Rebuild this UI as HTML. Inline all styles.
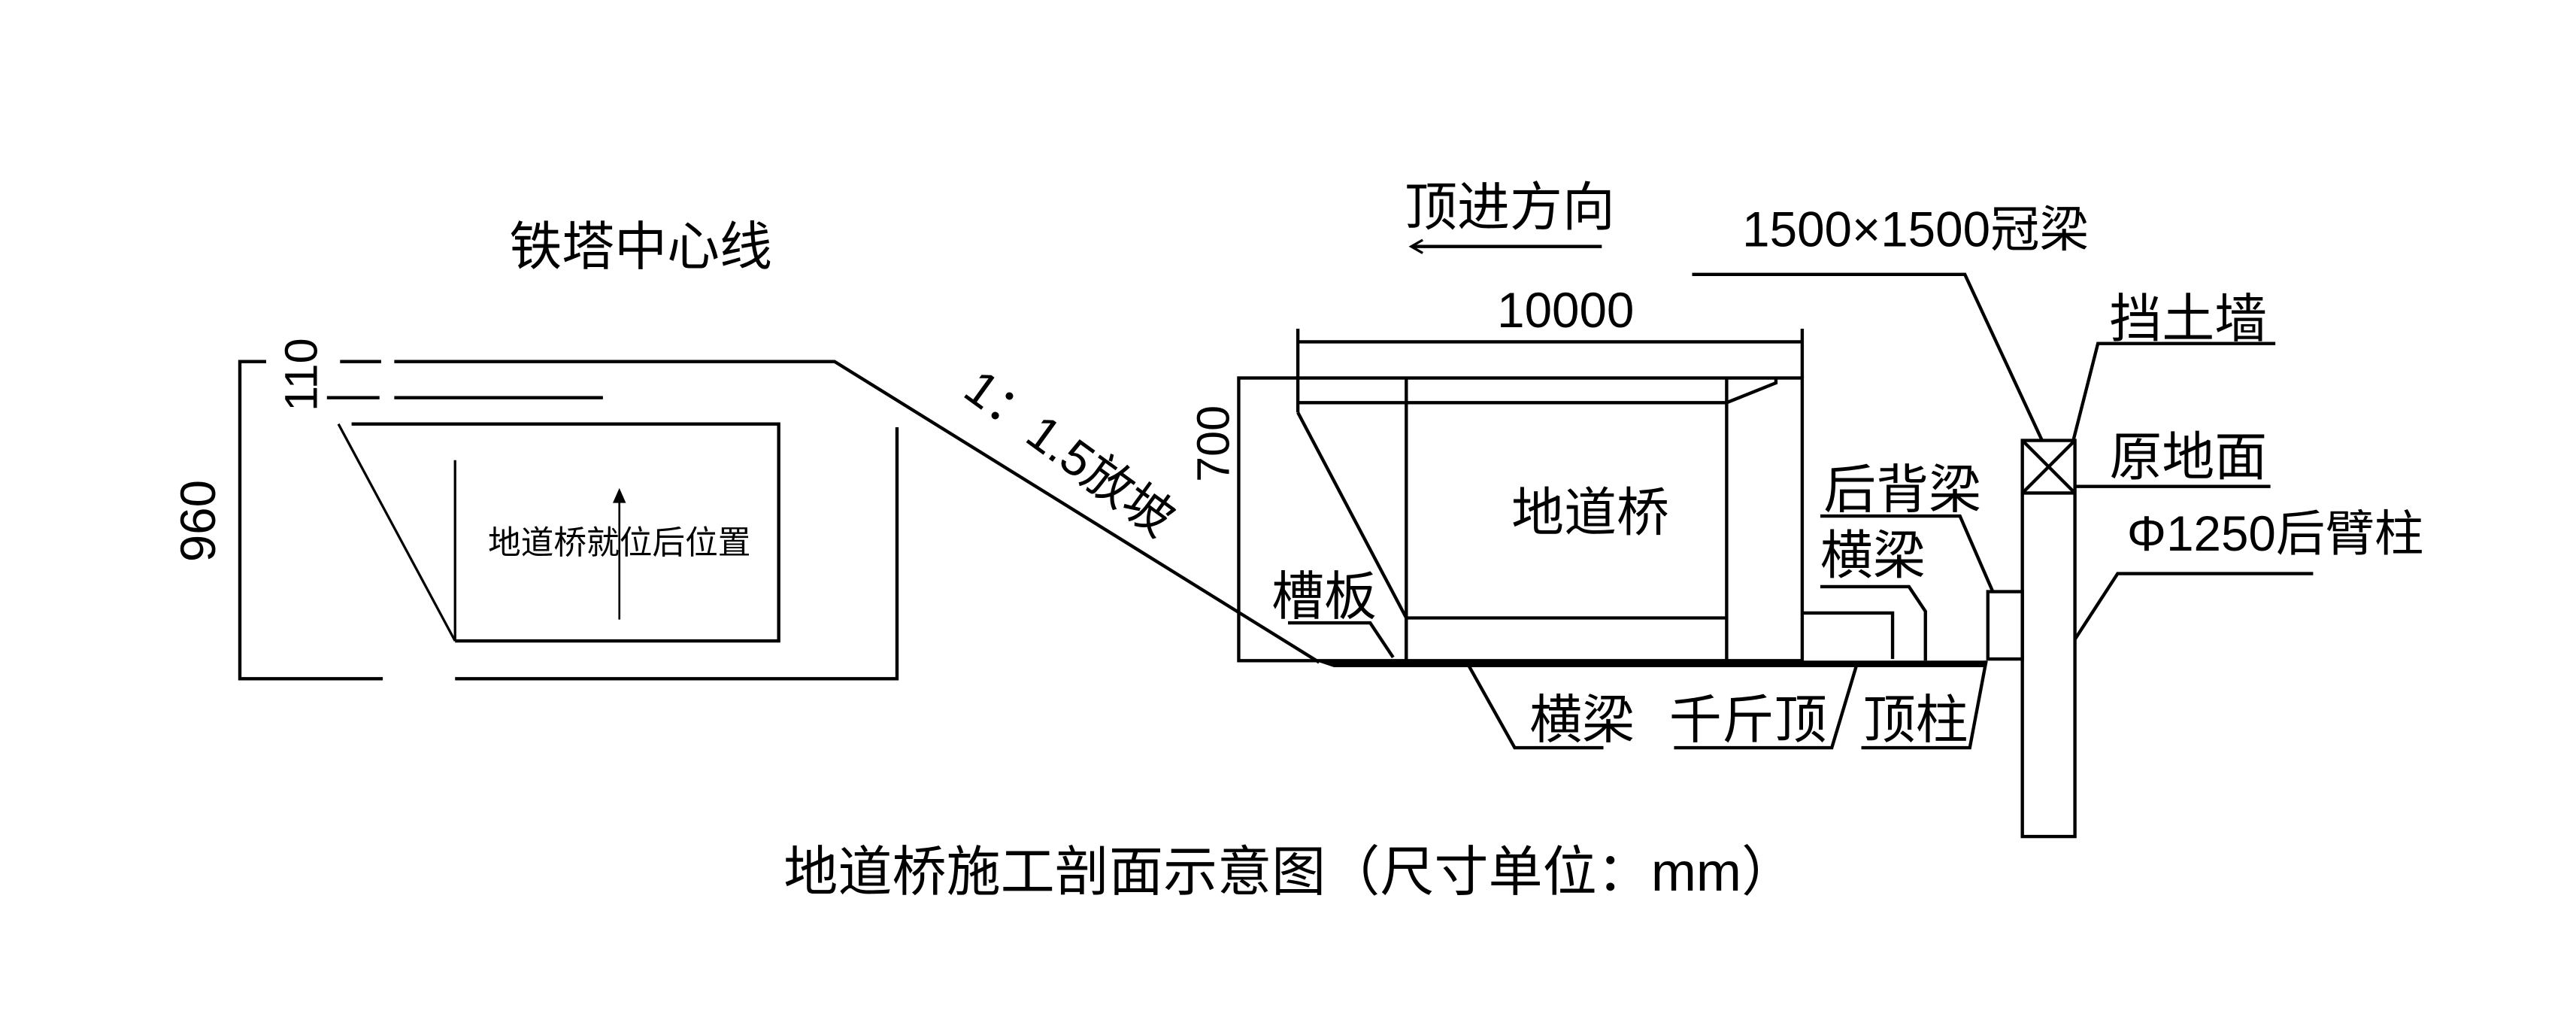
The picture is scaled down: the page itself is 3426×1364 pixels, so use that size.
<!DOCTYPE html>
<html><head><meta charset="utf-8">
<style>
html,body{margin:0;padding:0;background:#fff;}
svg{display:block;}
text{font-family:"Liberation Sans","Noto Sans CJK SC",sans-serif;fill:#000;}
</style></head>
<body>
<svg width="3426" height="1364" viewBox="0 0 1568 624.3" preserveAspectRatio="none" xmlns="http://www.w3.org/2000/svg">
<g stroke="#000" stroke-width="2" fill="none" stroke-linecap="butt">
<polyline points="162,220 146,220 146,413 233,413"/>
<line x1="207" y1="220" x2="232" y2="220"/>
<polyline points="240,220 508,220 803,403"/>
<line x1="199" y1="242" x2="231" y2="242"/>
<line x1="240" y1="242" x2="367" y2="242"/>
<polyline points="214,258 474,258 474,390 277,390"/>
<line x1="206" y1="258" x2="277" y2="390" stroke-width="1.5"/>
<line x1="277" y1="280" x2="277" y2="390" stroke-width="1.5"/>
<polyline points="277,413 546,413 546,260"/>
<line x1="377" y1="377" x2="377" y2="300" stroke-width="1.2"/>
<rect x="754" y="230" width="343" height="172"/>
<line x1="790" y1="208" x2="1097" y2="208"/>
<line x1="790" y1="200" x2="790" y2="251"/>
<line x1="1097" y1="200" x2="1097" y2="230"/>
<line x1="790" y1="245" x2="1051" y2="245"/>
<polyline points="1051,245 1081,233 1081,230"/>
<polyline points="790,251 856,376 856,402"/>
<line x1="856" y1="230" x2="856" y2="402"/>
<line x1="1051" y1="230" x2="1051" y2="402"/>
<line x1="856" y1="376" x2="1051" y2="376"/>
<polyline points="1097,373 1152,373 1152,401"/>
<polyline points="1108,357 1162,357 1172,372 1172,402"/>
<polyline points="1108,314 1193,314 1213,360"/>
<rect x="1210" y="360" width="21" height="41"/>
<rect x="1231" y="268" width="32" height="241"/>
<line x1="1231" y1="268" x2="1263" y2="300"/>
<line x1="1263" y1="268" x2="1231" y2="300"/>
<line x1="1231" y1="300" x2="1263" y2="300"/>
<polyline points="1030,167 1196,167 1243,268"/>
<polyline points="1385,209 1277,209 1262,268"/>
<line x1="1263" y1="296" x2="1382" y2="296"/>
<polyline points="1408,349 1289,349 1263,389"/>
<polyline points="976,455 922,455 894,405"/>
<polyline points="1019,455 1115,455 1130,405"/>
<polyline points="1133,455 1199,455 1209,402"/>
<polyline points="784,379 834,379 848,400"/>
<line x1="860" y1="150" x2="975" y2="150"/>
<polyline points="866,146 859,150 866,154" stroke-width="1.5"/>
</g>
<polygon points="373,306 377,297 381,306" fill="#000"/>
<polygon points="800,402 1208,402 1208,406 812,406" fill="#000"/>
<g font-size="32">
<text x="390" y="161" text-anchor="middle">铁塔中心线</text>
<text x="919" y="137" text-anchor="middle">顶进方向</text>
<text x="1166" y="150" text-anchor="middle" font-size="30">1500×1500冠梁</text>
<text x="953" y="199" text-anchor="middle" font-size="30">10000</text>
<text x="1332" y="205" text-anchor="middle">挡土墙</text>
<text x="1332" y="289" text-anchor="middle">原地面</text>
<text x="1385" y="335" text-anchor="middle" font-size="30">Φ1250后臂柱</text>
<text x="1158" y="309" text-anchor="middle">后背梁</text>
<text x="1140" y="349" text-anchor="middle">横梁</text>
<text x="968" y="323" text-anchor="middle">地道桥</text>
<text x="806" y="374" text-anchor="middle">槽板</text>
<text x="963" y="449" text-anchor="middle">横梁</text>
<text x="1064" y="449" text-anchor="middle">千斤顶</text>
<text x="1166" y="449" text-anchor="middle">顶柱</text>
<text x="785" y="542" text-anchor="middle" font-size="33">地道桥施工剖面示意图（尺寸单位：mm）</text>
<text transform="translate(131,317) rotate(-90)" text-anchor="middle" font-size="30">960</text>
<text transform="translate(193,228) rotate(-90)" text-anchor="middle" font-size="28">110</text>
<text transform="translate(748,270) rotate(-90)" text-anchor="middle" font-size="28">700</text>
<text transform="translate(645,284) rotate(36)" text-anchor="middle" font-size="30">1：1.5放坡</text>
</g>
<text x="377" y="337" text-anchor="middle" font-size="20">地道桥就位后位置</text>
</svg>
</body></html>
